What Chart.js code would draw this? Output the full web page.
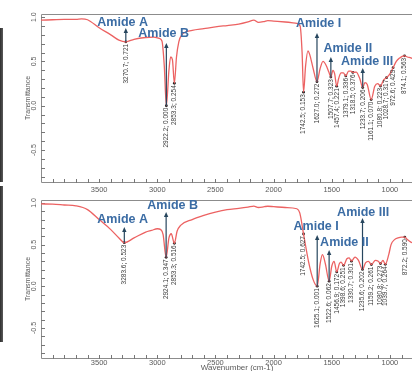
<!DOCTYPE html>
<html>
<head>
<meta charset="utf-8">
<script src="https://cdn.jsdelivr.net/npm/chart.js@4"></script>
<style>
  html, body { margin: 0; padding: 0; background: #fff; overflow: hidden; }
  #wrap { position: relative; width: 416px; height: 371px; }
  canvas { position: absolute; left: 0; }
  #c1 { top: 0; }
  #c2 { top: 196px; }
  .strip { position: absolute; left: 0; width: 3px; background: linear-gradient(90deg, #2e2e2e, #5a5a5a); }
</style>
</head>
<body>
<div id="wrap">
  <canvas id="c1" width="416" height="196"></canvas>
  <canvas id="c2" width="416" height="175"></canvas>
  <div class="strip" style="top:28px;height:154px"></div>
  <div class="strip" style="top:186px;height:156px"></div>
</div>
<script>
// upper spectrum
const topWave = [4000, 3900, 3800, 3700, 3650, 3600, 3500, 3400, 3330, 3270.7, 3200, 3100, 3030, 2985, 2960, 2940, 2922.2, 2900, 2885, 2870, 2853.3, 2835, 2815, 2790, 2700, 2600, 2500, 2400, 2300, 2220, 2170, 2130, 2080, 2050, 2000, 1900, 1800, 1772, 1755, 1742.5, 1725, 1705, 1690, 1660, 1627.0, 1600, 1575, 1550, 1525, 1507.7, 1490, 1475, 1457.4, 1440, 1420, 1400, 1379.1, 1355, 1335, 1318.5, 1290, 1260, 1233.7, 1215, 1195, 1161.1, 1130, 1105, 1080.8, 1055, 1028.7, 1000, 972.6, 945, 915, 890, 874.1, 850, 820, 800];
const topT = [0.965, 0.97, 0.975, 0.975, 0.98, 0.97, 0.88, 0.80, 0.74, 0.721, 0.75, 0.77, 0.775, 0.76, 0.73, 0.45, 0.000, 0.40, 0.55, 0.52, 0.254, 0.55, 0.72, 0.80, 0.85, 0.87, 0.89, 0.905, 0.92, 0.945, 0.965, 0.94, 0.95, 0.96, 0.955, 0.945, 0.93, 0.90, 0.60, 0.153, 0.45, 0.62, 0.58, 0.42, 0.272, 0.42, 0.50, 0.46, 0.38, 0.323, 0.40, 0.36, 0.221, 0.31, 0.37, 0.37, 0.336, 0.39, 0.39, 0.376, 0.38, 0.31, 0.206, 0.26, 0.24, 0.070, 0.22, 0.25, 0.223, 0.29, 0.317, 0.36, 0.429, 0.50, 0.54, 0.56, 0.563, 0.55, 0.54, 0.53];
const topPeakWave = [3270.7, 2922.2, 2853.3, 1742.5, 1627.0, 1507.7, 1457.4, 1379.1, 1318.5, 1233.7, 1161.1, 1080.8, 1028.7, 972.6, 874.1];
const topPeakT = [0.721, 0.000, 0.254, 0.153, 0.272, 0.323, 0.221, 0.336, 0.376, 0.206, 0.070, 0.223, 0.317, 0.429, 0.563];

// lower spectrum
const botWave = [4000, 3900, 3800, 3700, 3600, 3500, 3400, 3330, 3283.6, 3200, 3100, 3050, 3000, 2970, 2950, 2924.1, 2900, 2880, 2853.3, 2830, 2800, 2700, 2600, 2500, 2400, 2300, 2220, 2170, 2130, 2080, 2050, 2000, 1900, 1800, 1775, 1742.5, 1700, 1660, 1625.1, 1600, 1580, 1555, 1522.6, 1500, 1480, 1456.9, 1435, 1420, 1398.6, 1370, 1350, 1330.7, 1300, 1270, 1235.6, 1210, 1185, 1159.2, 1125, 1100, 1080.8, 1060, 1039.7, 1010, 990, 960, 930, 900, 872.2, 850, 820, 800];
const botT = [0.988, 0.985, 0.975, 0.965, 0.92, 0.80, 0.68, 0.58, 0.523, 0.58, 0.65, 0.67, 0.69, 0.68, 0.62, 0.347, 0.58, 0.63, 0.516, 0.66, 0.73, 0.80, 0.85, 0.89, 0.92, 0.935, 0.95, 0.962, 0.945, 0.955, 0.96, 0.955, 0.945, 0.93, 0.88, 0.627, 0.30, 0.08, 0.001, 0.27, 0.38, 0.27, 0.062, 0.24, 0.30, 0.172, 0.27, 0.29, 0.251, 0.33, 0.34, 0.301, 0.35, 0.31, 0.202, 0.28, 0.30, 0.261, 0.31, 0.30, 0.273, 0.31, 0.264, 0.38, 0.50, 0.56, 0.58, 0.59, 0.590, 0.56, 0.53, 0.52];
const botPeakWave = [3283.6, 2924.1, 2853.3, 1742.5, 1625.1, 1522.6, 1456.9, 1398.6, 1330.7, 1235.6, 1159.2, 1080.8, 1039.7, 872.2];
const botPeakT = [0.523, 0.347, 0.516, 0.627, 0.001, 0.062, 0.172, 0.251, 0.301, 0.202, 0.261, 0.273, 0.264, 0.590];

// amide band annotations: arrow from the peak up to a tip, label placed above
const amideNames = ["Amide A", "Amide B", "Amide I", "Amide II", "Amide III"];
const topAmideWave = [3270.7, 2922.2, 1627.0, 1507.7, 1233.7];
const topAmideFrom = [0.721, 0.000, 0.272, 0.323, 0.206];
const topAmideTip = [0.876, 0.707, 0.82, 0.55, 0.425];
const topAmideLabelW = [3298, 2945, 1613, 1362, 1196];
const topAmideLabelT = [0.944, 0.82, 0.93, 0.65, 0.504];
const botAmideWave = [3283.6, 2924.1, 1625.1, 1522.6, 1235.6];
const botAmideFrom = [0.523, 0.347, 0.001, 0.062, 0.202];
const botAmideTip = [0.712, 0.892, 0.616, 0.436, 0.82];
const botAmideLabelW = [3298, 2868, 1634, 1391, 1230];
const botAmideLabelT = [0.796, 0.964, 0.712, 0.52, 0.88];

// axis ticks
const xTickLabels = [3500, 3000, 2500, 2000, 1500, 1000];
const yTickLabels = [1.0, 0.5, 0.0, -0.5];

const axisColor = "#8c8c8c";
const textColor = "#5a5a5a";

// draws frame, inward ticks, rotated labels
const axesPlugin = {
  id: "ftirAxes",
  beforeDatasetsDraw(chart, args, opts) {
    const { ctx, chartArea: a } = chart;
    const x = chart.scales.x, y = chart.scales.y;
    ctx.save();
    ctx.strokeStyle = axisColor;
    ctx.lineWidth = 1;
    ctx.beginPath();
    ctx.moveTo(a.right, a.top + 0.5);
    ctx.lineTo(a.left + 0.5, a.top + 0.5);
    ctx.lineTo(a.left + 0.5, a.bottom + 0.5);
    ctx.lineTo(a.right, a.bottom + 0.5);
    ctx.stroke();

    ctx.strokeStyle = "#777";
    ctx.beginPath();
    for (let w = 3900; w > x.min; w -= 100) {
      const px = Math.round(x.getPixelForValue(w)) + 0.5;
      ctx.moveTo(px, a.bottom - 3);
      ctx.lineTo(px, a.bottom + 1);
    }
    for (let i = -8; i <= 10; i++) {
      const py = Math.round(y.getPixelForValue(i / 10)) + 0.5;
      ctx.moveTo(a.left, py);
      ctx.lineTo(a.left + 4, py);
    }
    ctx.stroke();

    ctx.fillStyle = textColor;
    ctx.font = "7.5px 'Liberation Sans', Arial, sans-serif";
    ctx.textAlign = "center";
    ctx.textBaseline = "middle";
    xTickLabels.forEach(w => {
      ctx.fillText(String(w), x.getPixelForValue(w), a.bottom + opts.xLabelGap);
    });

    ctx.font = "7px 'Liberation Sans', Arial, sans-serif";
    yTickLabels.forEach(v => {
      ctx.save();
      ctx.translate(a.left - 7, y.getPixelForValue(v));
      ctx.rotate(-Math.PI / 2);
      ctx.fillText(v.toFixed(1), 0, 0);
      ctx.restore();
    });
    ctx.save();
    ctx.translate(a.left - 13, (a.top + a.bottom) / 2);
    ctx.rotate(-Math.PI / 2);
    ctx.fillText("Transmittance", 0, 0);
    ctx.restore();

    if (opts.xTitle) {
      ctx.font = "8px 'Liberation Sans', Arial, sans-serif";
      ctx.textBaseline = "top";
      ctx.fillText(opts.xTitle, 237, a.bottom + 6);
    }
    ctx.restore();
  },
  afterDatasetsDraw(chart, args, opts) {
    const { ctx } = chart;
    const x = chart.scales.x, y = chart.scales.y;
    ctx.save();
    // peak labels, vertical, hanging below each point
    ctx.fillStyle = "#3a3a3a";
    ctx.font = "6.5px 'Liberation Sans', Arial, sans-serif";
    ctx.textAlign = "right";
    ctx.textBaseline = "middle";
    opts.peakWave.forEach((w, i) => {
      ctx.save();
      ctx.translate(x.getPixelForValue(w), y.getPixelForValue(opts.peakT[i]) + 2);
      ctx.rotate(-Math.PI / 2);
      ctx.fillText(w.toFixed(1) + "; " + opts.peakT[i].toFixed(3), 0, 0);
      ctx.restore();
    });
    // amide arrows
    ctx.strokeStyle = "#27465e";
    ctx.fillStyle = "#27465e";
    ctx.lineWidth = 1.2;
    opts.amideWave.forEach((w, i) => {
      const px = x.getPixelForValue(w);
      const y0 = y.getPixelForValue(opts.amideFrom[i]);
      const y1 = y.getPixelForValue(opts.amideTip[i]);
      ctx.beginPath();
      ctx.moveTo(px, y0);
      ctx.lineTo(px, y1 + 3);
      ctx.stroke();
      ctx.beginPath();
      ctx.moveTo(px, y1);
      ctx.lineTo(px - 2.2, y1 + 5);
      ctx.lineTo(px + 2.2, y1 + 5);
      ctx.closePath();
      ctx.fill();
    });
    ctx.fillStyle = "#3b6ca4";
    ctx.font = "bold 12.5px 'Liberation Sans', Arial, sans-serif";
    ctx.textAlign = "center";
    ctx.textBaseline = "middle";
    amideNames.forEach((name, i) => {
      ctx.fillText(name, x.getPixelForValue(opts.labelW[i]), y.getPixelForValue(opts.labelT[i]));
    });
    ctx.restore();
  }
};

function makeChart(id, wave, trans, peakWave, peakT, amide, pad, extra) {
  const curve = wave.map((w, i) => ({ x: w, y: trans[i] }));
  const peaks = peakWave.map((w, i) => ({ x: w, y: peakT[i] }));
  return new Chart(document.getElementById(id).getContext("2d"), {
    type: "line",
    data: {
      datasets: [
        {
          data: curve,
          borderColor: "#ec6262",
          borderWidth: 1.3,
          pointRadius: 0,
          cubicInterpolationMode: "monotone",
          fill: false
        },
        {
          type: "scatter",
          data: peaks,
          pointRadius: 1.4,
          pointBackgroundColor: "#222",
          pointBorderWidth: 0
        }
      ]
    },
    options: {
      responsive: false,
      animation: false,
      layout: { padding: pad },
      scales: {
        x: { type: "linear", reverse: true, min: 810, max: 4000, display: false },
        y: { min: -0.86, max: 1.035, display: false }
      },
      plugins: {
        legend: { display: false },
        tooltip: { enabled: false },
        ftirAxes: Object.assign({
          peakWave: peakWave,
          peakT: peakT,
          amideWave: amide.wave,
          amideFrom: amide.from,
          amideTip: amide.tip,
          labelW: amide.labelW,
          labelT: amide.labelT
        }, extra)
      }
    },
    plugins: [axesPlugin]
  });
}

makeChart("c1", topWave, topT, topPeakWave, topPeakT,
  { wave: topAmideWave, from: topAmideFrom, tip: topAmideTip, labelW: topAmideLabelW, labelT: topAmideLabelT },
  { left: 41, top: 14, bottom: 14, right: 0 },
  { xLabelGap: 8, xTitle: null });

makeChart("c2", botWave, botT, botPeakWave, botPeakT,
  { wave: botAmideWave, from: botAmideFrom, tip: botAmideTip, labelW: botAmideLabelW, labelT: botAmideLabelT },
  { left: 41, top: 4, bottom: 13, right: 0 },
  { xLabelGap: 5, xTitle: "Wavenumber (cm-1)" });
</script>
</body>
</html>
